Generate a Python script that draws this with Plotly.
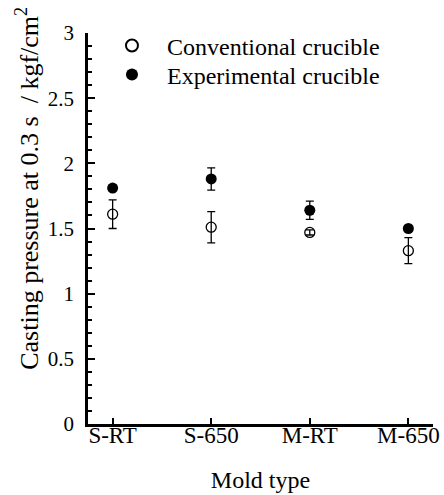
import plotly.graph_objects as go

categories = ["S-RT", "S-650", "M-RT", "M-650"]
conv_values = [1.61, 1.51, 1.47, 1.33]
conv_errors = [0.11, 0.12, 0.02, 0.10]
exp_values = [1.81, 1.88, 1.64, 1.50]
exp_errors = [0.02, 0.085, 0.07, 0.01]
y_ticks = [0, 0.5, 1, 1.5, 2, 2.5, 3]
y_ticktext = ["0", "0.5", "1", "1.5", "2", "2.5", "3"]
y_title = "Casting pressure at 0.3 s  / kgf/cm<sup>2</sup>"
x_title = "Mold type"

xpos = list(range(len(categories)))
font_family = "Liberation Serif"

fig = go.Figure()
fig.add_trace(go.Scatter(
    x=xpos, y=conv_values, mode="markers", name="Conventional crucible",
    legend="legend",
    marker=dict(symbol="circle-open", size=10, color="black", line=dict(width=1.3)),
    error_y=dict(type="data", array=conv_errors, visible=True, color="black", thickness=1.3, width=4),
))
fig.add_trace(go.Scatter(
    x=xpos, y=exp_values, mode="markers", name="Experimental crucible",
    legend="legend2",
    marker=dict(symbol="circle", size=11, color="black"),
    error_y=dict(type="data", array=exp_errors, visible=True, color="black", thickness=1.3, width=4),
))

leg_common = dict(xanchor="left", yanchor="middle", bgcolor="rgba(0,0,0,0)",
                  font=dict(size=24, family=font_family, color="black"), itemsizing="constant",
                  itemwidth=60, borderwidth=0)

fig.update_layout(
    width=444, height=495,
    margin=dict(l=88, r=11, t=33, b=71),
    plot_bgcolor="white", paper_bgcolor="white",
    font=dict(family=font_family, size=20, color="black"),
    showlegend=True,
    legend=dict(x=0.026, y=0.967, **leg_common),
    legend2=dict(x=0.026, y=0.893, **leg_common),
    xaxis=dict(
        range=[-0.25, 3.25], tickmode="array", tickvals=xpos, ticktext=categories,
        showline=True, linecolor="black", linewidth=2.5, ticks="inside", ticklen=6,
        tickwidth=2, tickcolor="black", showgrid=False, zeroline=False, mirror=False,
        tickfont=dict(size=23, family=font_family), automargin=False,
        ticklabelstandoff=-11,
        title=dict(text=x_title, font=dict(size=24, family=font_family), standoff=24),
    ),
    yaxis=dict(
        range=[0, 3], tickmode="array", tickvals=y_ticks, ticktext=y_ticktext,
        showline=True, linecolor="black", linewidth=2.5, ticks="inside", ticklen=7,
        tickwidth=2, tickcolor="black", showgrid=False, zeroline=False, mirror=False,
        tickfont=dict(size=21, family=font_family), automargin=False,
        ticklabelstandoff=7,
        minor=dict(dtick=0.1, tick0=0, ticks="inside", ticklen=4, tickwidth=1.5, tickcolor="black", showgrid=False),
    ),
    annotations=[dict(
        text=y_title, textangle=-90, showarrow=False,
        xref="paper", yref="paper", x=-0.174, y=0.604, xanchor="center", yanchor="middle",
        font=dict(size=26, family=font_family, color="black"),
    )],
)

fig.write_html("out.html", post_script="document.body.style.margin='0';",
               config={"displayModeBar": False})
